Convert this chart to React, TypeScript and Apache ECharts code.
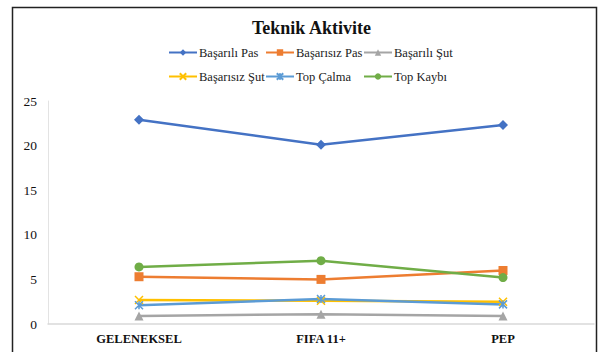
import React, { useEffect, useRef } from "react";
import * as echarts from "echarts";

const categories = ["GELENEKSEL", "FIFA 11+", "PEP"];
const basariliPas = [22.9, 20.1, 22.3];
const basarisizPas = [5.3, 5.0, 6.0];
const basariliSut = [0.9, 1.1, 0.9];
const basarisizSut = [2.7, 2.6, 2.5];
const topCalma = [2.1, 2.8, 2.2];
const topKaybi = [6.4, 7.1, 5.2];
const yTicks = [0, 5, 10, 15, 20, 25];

const SERIF = "Times New Roman, Liberation Serif, DejaVu Serif, serif";

export default function App() {
  const ref = useRef<HTMLDivElement>(null);
  useEffect(() => {
    document.body.style.margin = "0";
    const chart = echarts.init(ref.current!, null, { renderer: "svg" });
    const xPath = "path://M0,0L10,10M10,0L0,10";
    const starPath = "path://M0,0L10,10M10,0L0,10M5,0L5,10";
    const defs = [
      { name: "Başarılı Pas", data: basariliPas, color: "#4472C4", symbol: "diamond", size: 10 },
      { name: "Başarısız Pas", data: basarisizPas, color: "#ED7D31", symbol: "rect", size: 9 },
      { name: "Başarılı Şut", data: basariliSut, color: "#A5A5A5", symbol: "triangle", size: 9 },
      { name: "Başarısız Şut", data: basarisizSut, color: "#FFC000", symbol: xPath, size: 8, stroke: true },
      { name: "Top Çalma", data: topCalma, color: "#5B9BD5", symbol: starPath, size: 8, stroke: true },
      { name: "Top Kaybı", data: topKaybi, color: "#70AD47", symbol: "circle", size: 9 },
    ];
    const legendPos = [
      [168, 46], [265, 46], [363, 46],
      [168, 70], [265, 70], [363, 70],
    ];
    chart.setOption({
      animation: false,
      title: {
        text: "Teknik Aktivite",
        left: 247,
        top: 14,
        textStyle: { fontFamily: SERIF, fontSize: 18, fontWeight: "bold", color: "#111" },
      },
      legend: defs.map((d, i) => ({
        data: [d.name],
        left: legendPos[i][0],
        top: legendPos[i][1],
        itemWidth: 28,
        itemHeight: 8,
        padding: 0,
        textStyle: { fontFamily: SERIF, fontSize: 12.5, color: "#222", padding: [0, 0, 0, -3] },
      })),
      grid: { left: 48, right: 4, top: 101, bottom: 28 },
      xAxis: {
        type: "category",
        data: categories,
        boundaryGap: true,
        axisLine: { lineStyle: { color: "#d9d9d9", width: 1.5 } },
        axisTick: { show: false },
        axisLabel: {
          margin: 8,
          fontFamily: SERIF,
          fontSize: 12.5,
          fontWeight: "bold",
          color: "#111",
        },
      },
      yAxis: {
        type: "value",
        min: yTicks[0],
        max: yTicks[yTicks.length - 1],
        interval: 5,
        axisLine: { show: true, lineStyle: { color: "#e3e3e3", width: 1 } },
        axisTick: { show: false },
        splitLine: { show: false },
        axisLabel: { margin: 11, fontFamily: SERIF, fontSize: 13.5, color: "#111" },
      },
      series: defs.map((d) => ({
        name: d.name,
        type: "line",
        data: d.data,
        symbol: d.symbol,
        symbolSize: d.size,
        showAllSymbol: true,
        lineStyle: { color: d.color, width: 2.5 },
        itemStyle: d.stroke
          ? { color: d.color, borderColor: d.color, borderWidth: 1.5 }
          : { color: d.color },
      })),
      graphic: [
        {
          type: "rect",
          shape: { x: 12.5, y: 7.5, width: 584, height: 360 },
          style: { fill: "none", stroke: "#222", lineWidth: 1.5 },
          silent: true,
        },
      ],
    });
    return () => chart.dispose();
  }, []);
  return <div ref={ref} style={{ width: 598, height: 352 }} />;
}
